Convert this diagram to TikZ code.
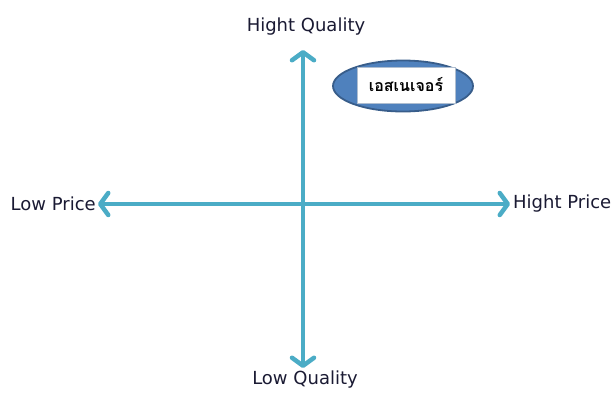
\documentclass[tikz,border=0pt]{standalone}
\usepackage{fontspec}
\setmainfont{DejaVu Sans}
\newfontfamily\thaifont[Script=Thai]{Loma}
\usetikzlibrary{arrows.meta,shapes.geometric}
\definecolor{axisblue}{HTML}{4BACC6}
\definecolor{ovalfill}{HTML}{4F81BD}
\definecolor{ovaldraw}{HTML}{385D8A}
\definecolor{labelink}{HTML}{1A1A33}
\tikzset{
  axis/.style={draw=axisblue, line width=4.5pt,
    -{Straight Barb[length=8pt,width=22pt,round]}},
  lbl/.style={inner sep=0pt, font=\fontsize{18}{20}\selectfont, text=labelink},
}
\begin{document}
\begin{tikzpicture}[x=1pt,y=-1pt]
  \useasboundingbox (0,0) rectangle (612,392);
  % axis labels
  \node[lbl] (hq) at (306,27) {Hight Quality};
  \node[lbl] (lq) at (305,380) {Low Quality};
  \node[lbl, anchor=east] (lp) at (96,204) {Low Price};
  \node[lbl, anchor=west] (hp) at (513,204) {Hight Price};
  % origin and axis ends
  \coordinate (o) at (303,204);
  \coordinate (top) at (303,50);
  \coordinate (bot) at (303,368);
  \coordinate (left) at (98,204);
  \coordinate (right) at (510,204);
  \draw[axis] (o) -- (top);
  \draw[axis] (o) -- (bot);
  \draw[axis] (o) -- (left);
  \draw[axis] (o) -- (right);
  % brand oval
  \node[ellipse, draw=ovaldraw, fill=ovalfill, line width=1.8pt,
        minimum width=140pt, minimum height=51pt, inner sep=0pt] (oval) at (403,86) {};
  \node[draw=ovaldraw!40, fill=white, line width=0.4pt,
        minimum width=98pt, minimum height=36pt, inner sep=0pt,
        font=\thaifont\bfseries\fontsize{16}{18}\selectfont] (brand) at (406,85) {เอสเนเจอร์};
\end{tikzpicture}
\end{document}
